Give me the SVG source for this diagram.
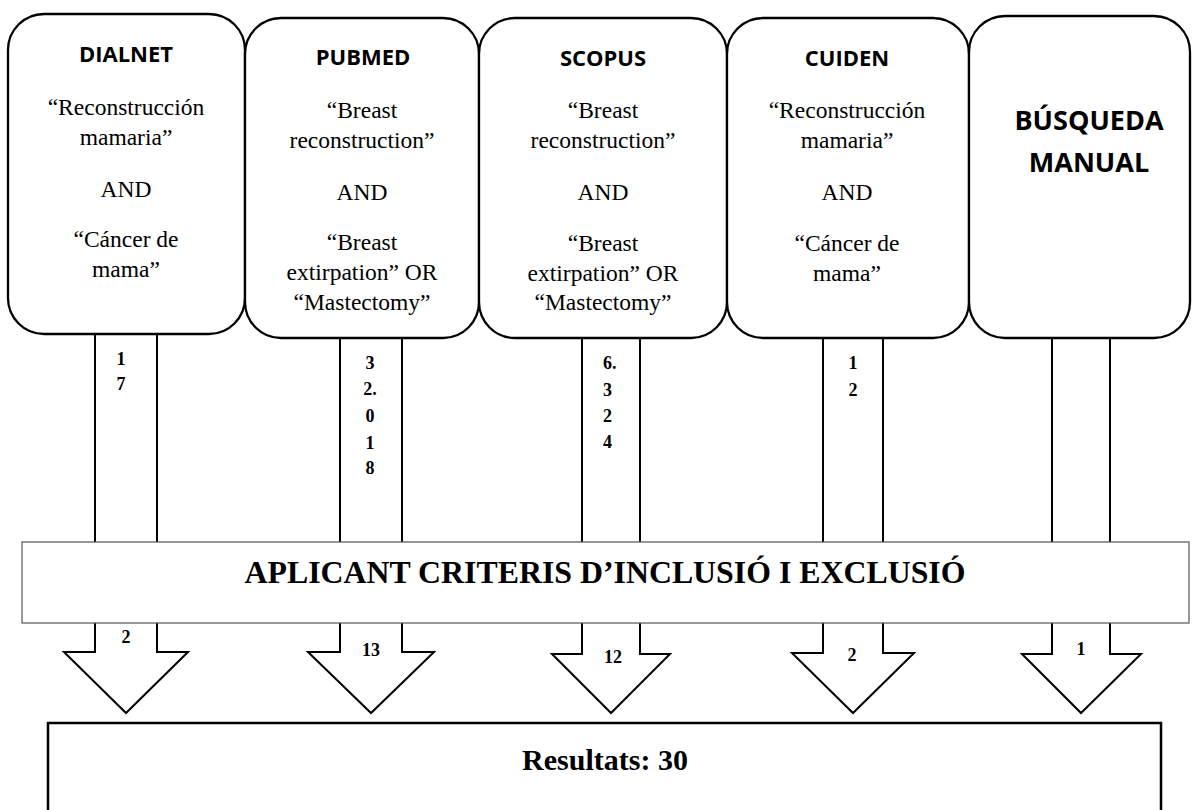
<svg xmlns="http://www.w3.org/2000/svg" width="1198" height="810" viewBox="0 0 1198 810">
<style>
.box{fill:#fff;stroke:#000;stroke-width:2.3}
.ttl{font-family:"Open Sans","DejaVu Sans",sans-serif;font-weight:bold;font-size:22px;text-anchor:middle;fill:#000}
.big{font-family:"Open Sans","DejaVu Sans",sans-serif;font-weight:bold;font-size:27px;text-anchor:middle;fill:#000}
.body{font-family:"Liberation Serif","Times New Roman",serif;font-size:23.5px;text-anchor:middle;fill:#000}
.num{font-family:"Liberation Serif","Times New Roman",serif;font-weight:bold;font-size:18px;text-anchor:middle;fill:#000}
.numl{font-family:"Liberation Serif","Times New Roman",serif;font-weight:bold;font-size:18px;text-anchor:start;fill:#000}
.lbl{font-family:"Liberation Serif","Times New Roman",serif;font-weight:bold;font-size:18px;text-anchor:middle;fill:#000}
.shaft{stroke:#000;stroke-width:2;fill:none}
.arrow{fill:#fff;stroke:#000;stroke-width:2;stroke-linejoin:miter}
.band{fill:#fff;stroke:#555;stroke-width:1.2}
.bandtxt{font-family:"Liberation Serif","Times New Roman",serif;font-weight:bold;font-size:31px;text-anchor:middle;fill:#000}
.restxt{font-family:"Liberation Serif","Times New Roman",serif;font-weight:bold;font-size:30px;text-anchor:middle;fill:#000}
.res{fill:#fff;stroke:#000;stroke-width:2.5}
</style>

<g id="connectors">
  <path class="shaft" d="M95,334 V542 M157,334 V542"/>
  <path class="shaft" d="M340,338 V542 M402,338 V542"/>
  <path class="shaft" d="M582,338 V542 M640,338 V542"/>
  <path class="shaft" d="M823,338 V542 M883,338 V542"/>
  <path class="shaft" d="M1052,338 V542 M1110,338 V542"/>
  <polyline class="arrow" points="95,623 95,652 64,652 126,713 188,652 157,652 157,623"/>
  <polyline class="arrow" points="340,623 340,652 308,652 371,713 434,652 402,652 402,623"/>
  <polyline class="arrow" points="582,623 582,654 552,654 611,713 670,654 640,654 640,623"/>
  <polyline class="arrow" points="823,623 823,653 792,653 853,713 914,653 883,653 883,623"/>
  <polyline class="arrow" points="1052,623 1052,654 1022,654 1081,713 1141,654 1110,654 1110,623"/>
  <text class="num" x="121" y="365">1</text>
  <text class="num" x="121" y="390">7</text>
  <text class="num" x="370" y="369">3</text>
  <text class="num" x="370" y="395">2.</text>
  <text class="num" x="370" y="422">0</text>
  <text class="num" x="370" y="449">1</text>
  <text class="num" x="370" y="474">8</text>
  <text class="numl" x="603" y="369">6.</text>
  <text class="numl" x="603" y="396">3</text>
  <text class="numl" x="603" y="422">2</text>
  <text class="numl" x="603" y="448">4</text>
  <text class="num" x="853" y="369">1</text>
  <text class="num" x="853" y="396">2</text>
  <text class="lbl" x="126" y="643">2</text>
  <text class="lbl" x="371" y="656">13</text>
  <text class="lbl" x="613" y="663">12</text>
  <text class="lbl" x="852" y="661">2</text>
  <text class="lbl" x="1081" y="655">1</text>
</g>

<g id="dialnet">
  <rect class="box" x="8" y="14" width="237" height="320" rx="36" ry="36"/>
  <text class="ttl" x="126" y="62">DIALNET</text>
  <text class="body" x="126" y="115">“Reconstrucción</text>
  <text class="body" x="126" y="145">mamaria”</text>
  <text class="body" x="126" y="197">AND</text>
  <text class="body" x="126" y="247">“Cáncer de</text>
  <text class="body" x="126" y="277">mama”</text>
</g>

<g id="pubmed">
  <rect class="box" x="245" y="18" width="234" height="320" rx="36" ry="36"/>
  <text class="ttl" x="363" y="65">PUBMED</text>
  <text class="body" x="362" y="118">“Breast</text>
  <text class="body" x="362" y="148">reconstruction”</text>
  <text class="body" x="362" y="200">AND</text>
  <text class="body" x="362" y="250">“Breast</text>
  <text class="body" x="362" y="280">extirpation” OR</text>
  <text class="body" x="362" y="310">“Mastectomy”</text>
</g>

<g id="scopus">
  <rect class="box" x="479" y="18" width="248" height="320" rx="36" ry="36"/>
  <text class="ttl" x="603" y="66">SCOPUS</text>
  <text class="body" x="603" y="118">“Breast</text>
  <text class="body" x="603" y="148">reconstruction”</text>
  <text class="body" x="603" y="200">AND</text>
  <text class="body" x="603" y="251">“Breast</text>
  <text class="body" x="603" y="281">extirpation” OR</text>
  <text class="body" x="603" y="310">“Mastectomy”</text>
</g>

<g id="cuiden">
  <rect class="box" x="727" y="18" width="242" height="320" rx="36" ry="36"/>
  <text class="ttl" x="847" y="66">CUIDEN</text>
  <text class="body" x="847" y="118">“Reconstrucción</text>
  <text class="body" x="847" y="148">mamaria”</text>
  <text class="body" x="847" y="200">AND</text>
  <text class="body" x="847" y="251">“Cáncer de</text>
  <text class="body" x="847" y="281">mama”</text>
</g>

<g id="busqueda-manual">
  <rect class="box" x="969" y="16" width="221" height="322" rx="36" ry="36"/>
  <text class="big" x="1089" y="130">BÚSQUEDA</text>
  <text class="big" x="1089" y="172">MANUAL</text>
</g>

<g id="criteris">
  <rect class="band" x="22" y="542" width="1167" height="81"/>
  <text class="bandtxt" x="605" y="583" textLength="721" lengthAdjust="spacingAndGlyphs">APLICANT CRITERIS D’INCLUSIÓ I EXCLUSIÓ</text>
</g>

<g id="resultats">
  <rect class="res" x="48" y="723" width="1113" height="100"/>
  <text class="restxt" x="605" y="770">Resultats: 30</text>
</g>
</svg>
